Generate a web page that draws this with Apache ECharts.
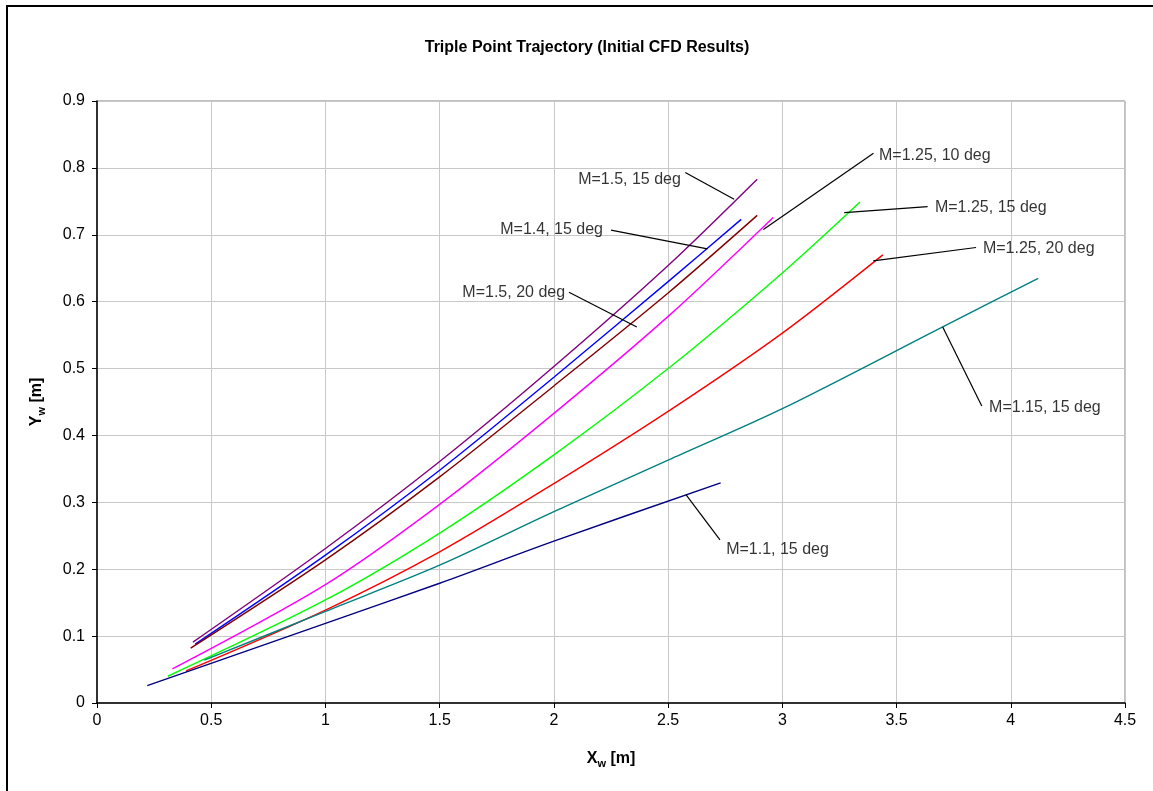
<!DOCTYPE html>
<html>
<head>
<meta charset="utf-8">
<title>Triple Point Trajectory</title>
<script src="https://cdn.jsdelivr.net/npm/echarts@6/dist/echarts.min.js"></script>
<style>
  html, body { margin: 0; padding: 0; background: #fff; }
  #chart { width: 1153px; height: 791px; }
</style>
</head>
<body>
<div id="chart"></div>
<script>
// curves, [x, y] in metres
var m15_15 = [[0.42, 0.091], [1, 0.231], [1.5, 0.361], [2, 0.503], [2.5, 0.654], [2.89, 0.783]];
var m14_15 = [[0.43, 0.088], [1, 0.221], [1.5, 0.348], [2, 0.487], [2.5, 0.630], [2.82, 0.723]];
var m15_20 = [[0.41, 0.082], [1, 0.214], [1.5, 0.338], [2, 0.474], [2.5, 0.613], [2.89, 0.729]];
var m125_10 = [[0.33, 0.051], [1, 0.177], [1.5, 0.297], [2, 0.433], [2.5, 0.578], [2.96, 0.726]];
var m125_15 = [[0.31, 0.040], [1, 0.154], [1.5, 0.254], [2, 0.371], [2.5, 0.500], [3, 0.643], [3.34, 0.749]];
var m125_20 = [[0.39, 0.048], [1, 0.139], [1.5, 0.226], [2, 0.328], [2.5, 0.436], [3, 0.553], [3.44, 0.670]];
var m115_15 = [[0.47, 0.064], [1, 0.137], [1.5, 0.206], [2, 0.286], [2.5, 0.363], [3, 0.440], [3.7, 0.562], [4.12, 0.635]];
var m11_15 = [[0.22, 0.026], [1, 0.119], [1.5, 0.179], [2, 0.242], [2.73, 0.329]];

var curveNames = ['M=1.5, 15 deg', 'M=1.4, 15 deg', 'M=1.5, 20 deg', 'M=1.25, 10 deg',
                  'M=1.25, 15 deg', 'M=1.25, 20 deg', 'M=1.15, 15 deg', 'M=1.1, 15 deg'];
var curveData = [m15_15, m14_15, m15_20, m125_10, m125_15, m125_20, m115_15, m11_15];
var colors = ['#800080', '#0000FF', '#800000', '#FF00FF', '#00FF00', '#FF0000', '#008080', '#000080'];

// callouts: text anchor, leader start, leader end (on the curve)
var annoText = curveNames;
var annoAt = [[2.556, 0.782], [2.215, 0.708], [2.049, 0.614], [3.423, 0.819],
              [3.668, 0.740], [3.878, 0.679], [3.905, 0.441], [2.754, 0.230]];
var annoSide = ['left', 'left', 'left', 'right', 'right', 'right', 'right', 'right'];
var leaderFrom = [[2.575, 0.793], [2.25, 0.707], [2.066, 0.614], [3.399, 0.822],
                  [3.636, 0.742], [3.848, 0.681], [3.873, 0.444], [2.727, 0.244]];
var leaderTo = [[2.789, 0.753], [2.672, 0.679], [2.363, 0.562], [2.917, 0.708],
                [3.271, 0.733], [3.398, 0.661], [3.702, 0.562], [2.579, 0.311]];

var myChart = echarts.init(document.getElementById('chart'));
var font = 'Liberation Sans, Arial, sans-serif';

var series = [];
for (var i = 0; i < curveData.length; i++) {
    series.push({
        name: curveNames[i],
        type: 'line',
        data: curveData[i],
        smooth: 0.3,
        showSymbol: false,
        symbol: 'none',
        lineStyle: { color: colors[i], width: 1.4 },
        z: 3
    });
}
for (var j = 0; j < annoText.length; j++) {
    series.push({
        type: 'line',
        data: [leaderFrom[j], leaderTo[j]],
        symbol: 'none',
        lineStyle: { color: '#000', width: 1.2 },
        z: 4
    });
}
var labelData = [];
for (var k = 0; k < annoText.length; k++) {
    labelData.push({
        value: annoAt[k],
        label: { position: annoSide[k], formatter: annoText[k] }
    });
}
series.push({
    type: 'scatter',
    data: labelData,
    symbolSize: 0,
    label: { show: true, distance: 0, color: '#000', fontSize: 16, fontFamily: font },
    z: 5
});

var option = {
    animation: false,
    backgroundColor: '#fff',
    title: {
        text: 'Triple Point Trajectory (Initial CFD Results)',
        left: 582,
        top: 35,
        textAlign: 'center',
        textStyle: { fontSize: 16, fontWeight: 'bold', fontFamily: font, color: '#000' }
    },
    graphic: [{
        type: 'rect',
        shape: { x: 7, y: 6, width: 1160, height: 800 },
        style: { fill: 'none', stroke: '#000', lineWidth: 2 },
        silent: true
    }],
    grid: {
        left: 97, top: 101, right: 28, bottom: 88,
        show: true, borderColor: '#808080', borderWidth: 1
    },
    xAxis: {
        type: 'value',
        min: 0, max: 4.5, interval: 0.5,
        name: '{a|X}{s|w}{a| [m]}',
        nameLocation: 'middle',
        nameGap: 46,
        nameTextStyle: {
            rich: {
                a: { fontSize: 16, fontWeight: 'bold', fontFamily: font, color: '#000' },
                s: { fontSize: 11, fontWeight: 'bold', fontFamily: font, color: '#000', verticalAlign: 'bottom', padding: [9, 0, 0, 0] }
            }
        },
        axisLine: { show: true, lineStyle: { color: '#000', width: 1.5 } },
        axisTick: { show: true, length: 5, lineStyle: { color: '#000' } },
        axisLabel: { fontSize: 16, color: '#000', fontFamily: font, margin: 10 },
        splitLine: { show: true, lineStyle: { color: '#C8C8C8', width: 1 } }
    },
    yAxis: {
        type: 'value',
        min: 0, max: 0.9, interval: 0.1,
        name: '{a|Y}{s|w}{a| [m]}',
        nameLocation: 'middle',
        nameGap: 50,
        nameTextStyle: {
            rich: {
                a: { fontSize: 16, fontWeight: 'bold', fontFamily: font, color: '#000' },
                s: { fontSize: 11, fontWeight: 'bold', fontFamily: font, color: '#000', verticalAlign: 'bottom', padding: [9, 0, 0, 0] }
            }
        },
        axisLine: { show: true, lineStyle: { color: '#000', width: 1.5 } },
        axisTick: { show: true, length: 5, lineStyle: { color: '#000' } },
        axisLabel: { fontSize: 16, color: '#000', fontFamily: font, margin: 12,
                     formatter: function (v) { return Math.round(v * 10) / 10 + ''; } },
        splitLine: { show: true, lineStyle: { color: '#C8C8C8', width: 1 } }
    },
    series: series
};
myChart.setOption(option);
</script>
</body>
</html>
